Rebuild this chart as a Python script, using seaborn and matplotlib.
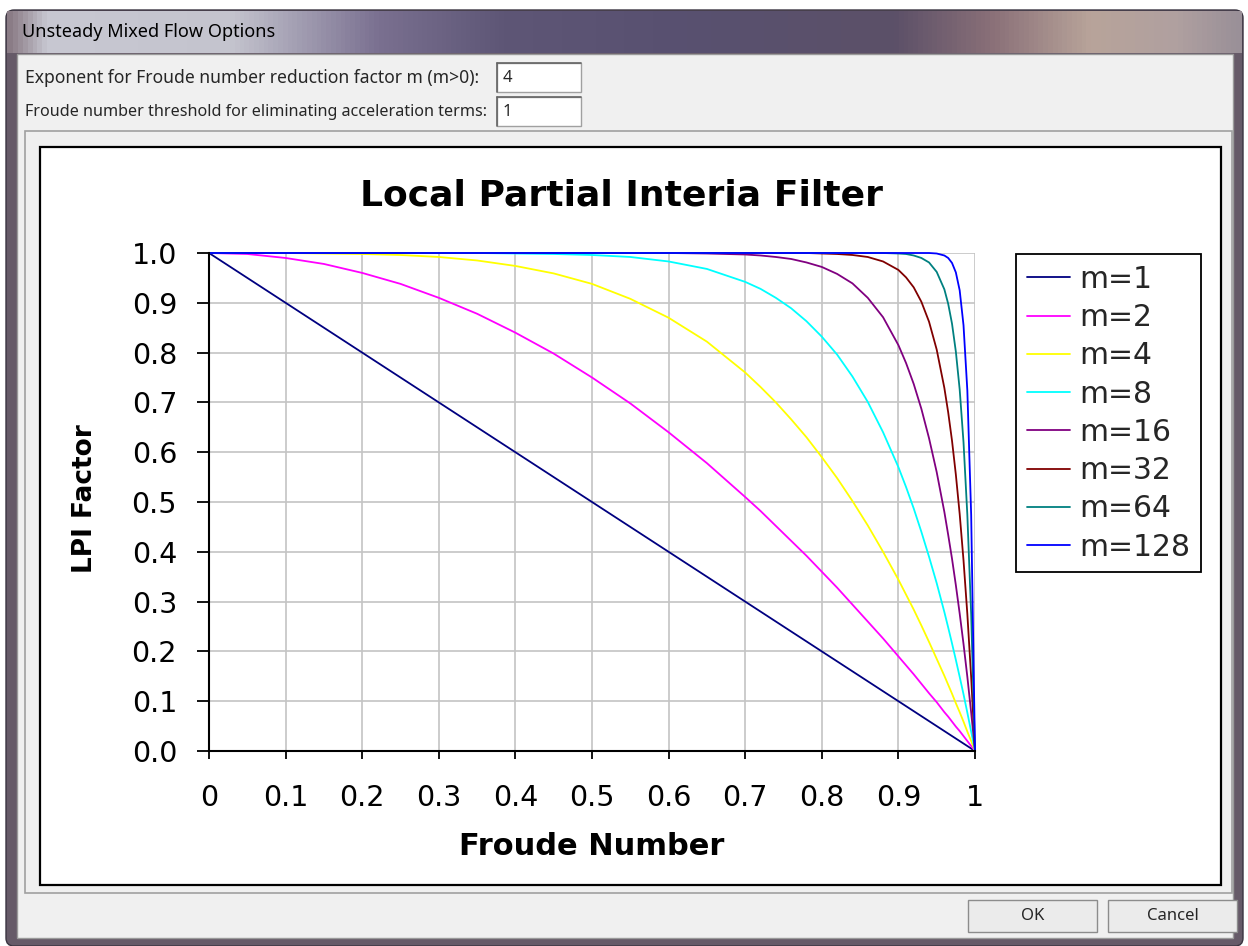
import numpy as np
import pandas as pd
import matplotlib
matplotlib.use("Agg")
import matplotlib.pyplot as plt
from matplotlib.patches import Rectangle, FancyBboxPatch
from matplotlib.lines import Line2D
from matplotlib.colors import LinearSegmentedColormap
import seaborn as sns

# ---------------- data ----------------
froude = [0.00, 0.05, 0.10, 0.15, 0.20, 0.25, 0.30, 0.35, 0.40, 0.45,
          0.50, 0.55, 0.60, 0.65, 0.70, 0.72, 0.74, 0.76, 0.78, 0.80,
          0.82, 0.84, 0.86, 0.88, 0.90, 0.91, 0.92, 0.93, 0.94, 0.95,
          0.96, 0.965, 0.97, 0.975, 0.98, 0.985, 0.99, 0.995, 1.00]

lpi_m1 = [1.00, 0.95, 0.90, 0.85, 0.80, 0.75, 0.70, 0.65, 0.60, 0.55,
          0.50, 0.45, 0.40, 0.35, 0.30, 0.28, 0.26, 0.24, 0.22, 0.20,
          0.18, 0.16, 0.14, 0.12, 0.10, 0.09, 0.08, 0.07, 0.06, 0.05,
          0.04, 0.035, 0.03, 0.025, 0.02, 0.015, 0.01, 0.005, 0.00]
lpi_m2 = [1.000, 0.998, 0.990, 0.978, 0.960, 0.938, 0.910, 0.878, 0.840, 0.798,
          0.750, 0.698, 0.640, 0.578, 0.510, 0.482, 0.452, 0.422, 0.392, 0.360,
          0.328, 0.294, 0.260, 0.226, 0.190, 0.172, 0.154, 0.135, 0.116, 0.098,
          0.078, 0.069, 0.059, 0.049, 0.040, 0.030, 0.020, 0.010, 0.000]
lpi_m4 = [1.000, 1.000, 1.000, 0.999, 0.998, 0.996, 0.992, 0.985, 0.974, 0.959,
          0.938, 0.908, 0.870, 0.822, 0.760, 0.731, 0.700, 0.666, 0.630, 0.590,
          0.548, 0.502, 0.453, 0.400, 0.344, 0.314, 0.284, 0.252, 0.219, 0.185,
          0.151, 0.133, 0.115, 0.096, 0.078, 0.059, 0.039, 0.020, 0.000]
lpi_m8 = [1.000, 1.000, 1.000, 1.000, 1.000, 1.000, 1.000, 1.000, 0.999, 0.998,
          0.996, 0.992, 0.983, 0.968, 0.942, 0.928, 0.910, 0.889, 0.863, 0.832,
          0.796, 0.752, 0.701, 0.640, 0.570, 0.530, 0.487, 0.440, 0.390, 0.337,
          0.279, 0.248, 0.216, 0.183, 0.149, 0.114, 0.077, 0.039, 0.000]
lpi_m16 = [1.000, 1.000, 1.000, 1.000, 1.000, 1.000, 1.000, 1.000, 1.000, 1.000,
           1.000, 1.000, 1.000, 0.999, 0.997, 0.995, 0.992, 0.988, 0.981, 0.972,
           0.958, 0.939, 0.910, 0.871, 0.815, 0.779, 0.737, 0.687, 0.628, 0.560,
           0.480, 0.434, 0.386, 0.333, 0.276, 0.215, 0.149, 0.077, 0.000]
lpi_m32 = [1.000, 1.000, 1.000, 1.000, 1.000, 1.000, 1.000, 1.000, 1.000, 1.000,
           1.000, 1.000, 1.000, 1.000, 1.000, 1.000, 1.000, 1.000, 1.000, 0.999,
           0.998, 0.996, 0.992, 0.983, 0.966, 0.951, 0.931, 0.902, 0.862, 0.806,
           0.729, 0.680, 0.623, 0.555, 0.476, 0.383, 0.275, 0.148, 0.000]
lpi_m64 = [1.000, 1.000, 1.000, 1.000, 1.000, 1.000, 1.000, 1.000, 1.000, 1.000,
           1.000, 1.000, 1.000, 1.000, 1.000, 1.000, 1.000, 1.000, 1.000, 1.000,
           1.000, 1.000, 1.000, 1.000, 0.999, 0.998, 0.995, 0.990, 0.981, 0.962,
           0.927, 0.898, 0.858, 0.802, 0.726, 0.620, 0.474, 0.274, 0.000]
lpi_m128 = [1.000, 1.000, 1.000, 1.000, 1.000, 1.000, 1.000, 1.000, 1.000, 1.000,
            1.000, 1.000, 1.000, 1.000, 1.000, 1.000, 1.000, 1.000, 1.000, 1.000,
            1.000, 1.000, 1.000, 1.000, 1.000, 1.000, 1.000, 1.000, 1.000, 0.999,
            0.995, 0.990, 0.980, 0.961, 0.925, 0.855, 0.724, 0.474, 0.000]

series_labels = ["m=1", "m=2", "m=4", "m=8", "m=16", "m=32", "m=64", "m=128"]
series_values = [lpi_m1, lpi_m2, lpi_m4, lpi_m8, lpi_m16, lpi_m32, lpi_m64, lpi_m128]
series_colors = ["#000080", "#ff00ff", "#ffff00", "#00ffff",
                 "#800080", "#800000", "#008080", "#0000ff"]

x_ticks = [0, 0.1, 0.2, 0.3, 0.4, 0.5, 0.6, 0.7, 0.8, 0.9, 1.0]
x_tick_labels = ["0", "0.1", "0.2", "0.3", "0.4", "0.5", "0.6", "0.7", "0.8", "0.9", "1"]
y_ticks = [0.0, 0.1, 0.2, 0.3, 0.4, 0.5, 0.6, 0.7, 0.8, 0.9, 1.0]
y_tick_labels = ["0.0", "0.1", "0.2", "0.3", "0.4", "0.5", "0.6", "0.7", "0.8", "0.9", "1.0"]

title_text = "Local Partial Interia Filter"
x_label = "Froude Number"
y_label = "LPI Factor"
dialog_title = "Unsteady Mixed Flow Options"
field1_label = "Exponent for Froude number reduction factor m (m>0):"
field2_label = "Froude number threshold for eliminating acceleration terms:"
field1_value = "4"
field2_value = "1"

rows = []
for lab, vals in zip(series_labels, series_values):
    for xv, yv in zip(froude, vals):
        rows.append({"Froude": xv, "LPI": yv, "series": lab})
df = pd.DataFrame(rows)

# ---------------- figure ----------------
sns.set_style("white")
plt.rcParams["font.family"] = ["DejaVu Sans"]
UI_FONT = ["Noto Sans", "DejaVu Sans"]

W, H = 1248, 946
fig = plt.figure(figsize=(W / 100, H / 100), dpi=100)
fig.patch.set_facecolor("white")

# background axes in pixel coordinates for the dialog chrome
bg = fig.add_axes([0, 0, 1, 1], zorder=0)
bg.set_axis_off()

# window frame
bg.add_patch(FancyBboxPatch((6, 10), 1237, 936, boxstyle="round,pad=0,rounding_size=8",
                            facecolor="#665a68", edgecolor="#3a3440", linewidth=1.0, zorder=1))
# title bar gradient
stops = [(0.00, "#8a7c86"), (0.03, "#c8c8d2"), (0.18, "#c4c4ce"), (0.30, "#7a7090"),
         (0.40, "#5e5676"), (0.55, "#585070"), (0.72, "#5c5068"), (0.80, "#8a7078"),
         (0.88, "#b8a49a"), (0.95, "#b0a0a0"), (1.00, "#9a9098")]
cmap = LinearSegmentedColormap.from_list("glass", stops)
grad = np.linspace(0, 1, 400).reshape(1, -1)
bg.imshow(grad, cmap=cmap, extent=(7, 1242, 53, 11), aspect="auto",
          interpolation="bilinear", zorder=2)
# client area
bg.add_patch(Rectangle((17, 54), 1216, 884, facecolor="#f0f0f0", edgecolor="#9a9a9a",
                       linewidth=1.0, zorder=3))
bg.text(22, 32, dialog_title, fontsize=13, family=UI_FONT, color="black",
        va="center", ha="left", zorder=4)
bg.text(25, 78, field1_label, fontsize=12.6, family=UI_FONT, va="center", ha="left", zorder=4)
bg.text(25, 112, field2_label, fontsize=11.6, family=UI_FONT, va="center", ha="left", zorder=4)
for (y0, val) in [(63, field1_value), (97, field2_value)]:
    bg.add_patch(Rectangle((497, y0), 84, 29, facecolor="white", edgecolor="#a0a0a0",
                           linewidth=1.0, zorder=4))
    bg.plot([497, 581], [y0, y0], color="#646464", lw=1.2, zorder=5)
    bg.plot([497, 497], [y0, y0 + 29], color="#646464", lw=1.2, zorder=5)
    bg.text(503, y0 + 15, val, fontsize=12, family=UI_FONT, va="center", ha="left", zorder=5)
# group frame
bg.add_patch(Rectangle((25, 131), 1207, 762, facecolor="#f0f0f0", edgecolor="#a0a0a0",
                       linewidth=1.2, zorder=4))
# chart box
bg.add_patch(Rectangle((40, 147), 1181, 738, facecolor="white", edgecolor="black",
                       linewidth=1.6, zorder=5))
# buttons
for (x0, txt) in [(968, "OK"), (1108, "Cancel")]:
    bg.add_patch(Rectangle((x0, 900), 129, 32, facecolor="#ebebeb", edgecolor="#8c8c8c",
                           linewidth=1.0, zorder=5))
    bg.text(x0 + 64.5, 916, txt, fontsize=12, family=UI_FONT, va="center", ha="center", zorder=6)

bg.set_xlim(0, W)
bg.set_ylim(H, 0)

# ---------------- main chart axes ----------------
ax = fig.add_axes([209 / W, 1 - 751 / H, 766 / W, 498 / H], zorder=2)
ax.set_facecolor("white")

palette = dict(zip(series_labels, series_colors))
sns.lineplot(data=df, x="Froude", y="LPI", hue="series", hue_order=series_labels,
             palette=palette, estimator=None, sort=False, linewidth=1.3,
             legend=False, ax=ax)
for ln in ax.lines:
    ln.set_clip_on(False)

ax.set_xlim(0, 1)
ax.set_ylim(0, 1)
ax.set_xticks(x_ticks)
ax.set_xticklabels(x_tick_labels)
ax.set_yticks(y_ticks)
ax.set_yticklabels(y_tick_labels)
ax.grid(True, color="#c4c4c4", linewidth=1.2)
ax.set_axisbelow(True)
for side in ["top", "right"]:
    ax.spines[side].set_visible(False)
for side in ["left", "bottom"]:
    ax.spines[side].set_color("black")
    ax.spines[side].set_linewidth(1.5)
    ax.spines[side].set_zorder(3)

ax.tick_params(axis="y", direction="out", length=9, width=1.3, pad=14, labelsize=20.5,
               color="black", left=True, labelcolor="black")
ax.tick_params(axis="x", direction="out", length=6, width=1.3, pad=18, labelsize=20.5,
               color="black", bottom=True, labelcolor="black")

ax.set_xlabel(x_label, fontsize=22, fontweight="bold", color="black")
ax.xaxis.set_label_coords(0.5, -0.162)
ax.set_ylabel(y_label, fontsize=19, fontweight="bold", color="black")
ax.yaxis.set_label_coords(-0.145, 0.506)

fig.text(622 / W, 1 - 205 / H, title_text, fontsize=26, fontweight="bold",
         ha="center", va="baseline", color="black")

handles = [Line2D([0], [0], color=c, lw=1.3) for c in series_colors]
leg = fig.legend(handles, series_labels, loc="upper left",
                 bbox_to_anchor=(1016 / W, 1 - 254 / H), bbox_transform=fig.transFigure,
                 frameon=True, fancybox=False, edgecolor="black", framealpha=1,
                 fontsize=21.5, handlelength=1.45, handletextpad=0.32,
                 labelspacing=0.31, borderpad=0.36, borderaxespad=0)
leg.get_frame().set_linewidth(1.3)
leg.set_zorder(5)

fig.savefig("out.png", dpi=100)
